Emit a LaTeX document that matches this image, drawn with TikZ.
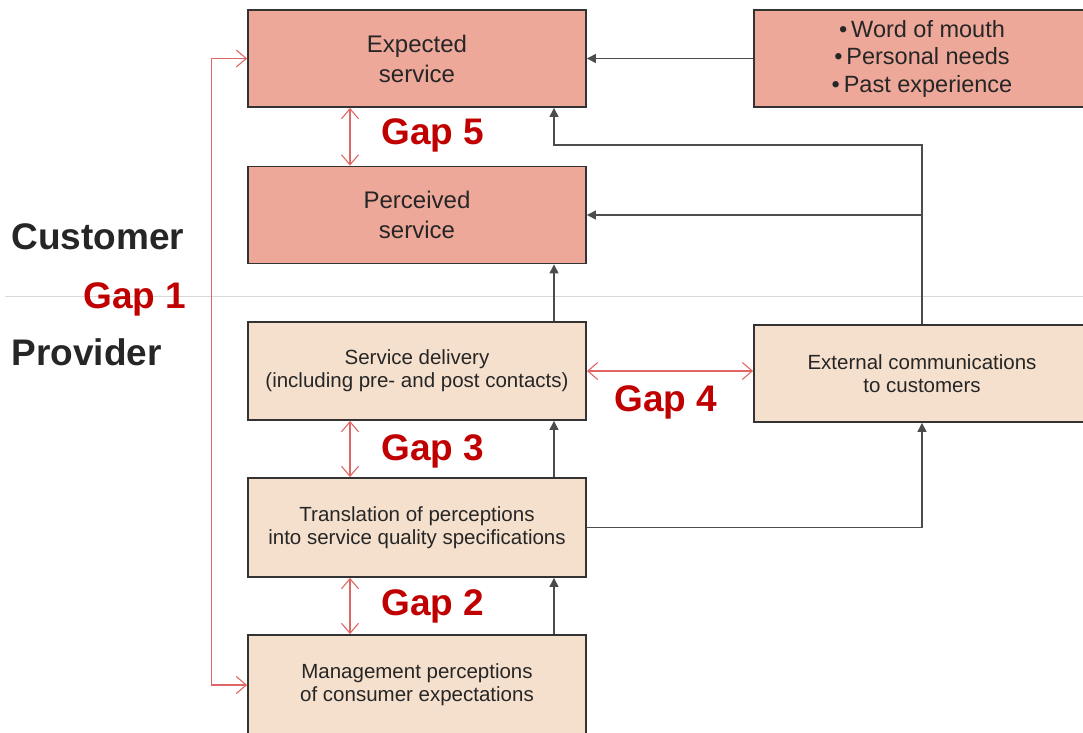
\documentclass[tikz,border=0pt]{standalone}
\usepackage{fontspec}
\setmainfont{Liberation Sans}
\usetikzlibrary{arrows.meta}
\definecolor{custfill}{HTML}{EDA89A}
\definecolor{provfill}{HTML}{F5E0CD}
\definecolor{gapred}{HTML}{C00000}
\definecolor{gapline}{HTML}{E06666}
\tikzstyle{cust} = [rectangle,minimum width=338pt,minimum height=97pt,draw=black!80,line width=1.8pt,text centered,fill=custfill,text=black!85,font=\fontsize{24}{30}\selectfont,align=center]
\tikzstyle{prov} = [rectangle,minimum width=338pt,minimum height=98pt,draw=black!80,line width=1.8pt,text centered,fill=provfill,text=black!85,font=\fontsize{20.5}{23}\selectfont,align=center]
\tikzstyle{gap} = [text=gapred,font=\fontsize{37}{40}\selectfont\bfseries]
\tikzstyle{side} = [anchor=west,text=black!85,font=\fontsize{37}{40}\selectfont\bfseries]
\tikzstyle{arr} = [-{Triangle[length=9pt,width=9pt]},black!70,line width=1.1pt]
\tikzstyle{gaparr} = [{Straight Barb[length=10pt,width=17pt]}-{Straight Barb[length=10pt,width=17pt]},gapline,line width=1.1pt]

\begin{document}
\begin{tikzpicture}[x=1pt,y=-1pt]
    \useasboundingbox (0,0) rectangle (1083,732);
    % Divider
    \draw[black!15,line width=1pt] (5,296) -- (1083,296);

    % Customer side
    \node[cust] (exp) at (417,58.5) {Expected\\service};
    \node[cust] (perc) at (417,215) {Perceived\\service};
    \node[cust,minimum width=336pt,font=\fontsize{23.5}{27.5}\selectfont] (wom) at (922,58.5) {\textbullet\,Word of mouth\\\textbullet\,Personal needs\\\textbullet\,Past experience};

    % Provider side
    \node[prov] (sdel) at (417,371) {Service delivery\\(including pre- and post contacts)};
    \node[prov,minimum width=336pt,minimum height=97pt] (ext) at (922,373.5) {External communications\\to customers};
    \node[prov,minimum height=99pt] (trans) at (417,527.5) {Translation of perceptions\\into service quality specifications};
    \node[prov,minimum height=100pt] (mgmt) at (417,685) {Management perceptions\\of consumer expectations};

    % Labels
    \node[side] (cu) at (8,237) {Customer};
    \node[side] (pr) at (8,352) {Provider};
    \node[gap] (g1) at (135,299) {Gap 1};
    \node[gap] (g5) at (433,135) {Gap 5};
    \node[gap] (g3) at (433,451) {Gap 3};
    \node[gap] (g2) at (433,606) {Gap 2};
    \node[gap] (g4) at (666,402) {Gap 4};

    % arrows
    \coordinate (top) at (922,145);
    \draw[arr] (wom.west) -- (exp.east);
    \draw[arr] (ext.north) -- (top) -| ([xshift=137pt]exp.south);
    \draw[arr] (ext.north |- perc.east) -- (perc.east);
    \draw[arr] ([xshift=137pt]sdel.north) -- ([xshift=137pt]perc.south);
    \draw[arr] ([xshift=137pt]trans.north) -- ([xshift=137pt]sdel.south);
    \draw[arr] ([xshift=137pt]mgmt.north) -- ([xshift=137pt]trans.south);
    \draw[arr] (trans.east) -| (ext.south);

    % gaps
    \draw[gaparr] (exp.west) -- ++(-36,0) |- (mgmt.west);
    \draw[gaparr] ([xshift=-67pt]exp.south) -- ([xshift=-67pt]perc.north);
    \draw[gaparr] ([xshift=-67pt]sdel.south) -- ([xshift=-67pt]trans.north);
    \draw[gaparr] ([xshift=-67pt]trans.south) -- ([xshift=-67pt]mgmt.north);
    \draw[gaparr] (sdel.east) -- (sdel.east -| ext.west);
\end{tikzpicture}
\end{document}
